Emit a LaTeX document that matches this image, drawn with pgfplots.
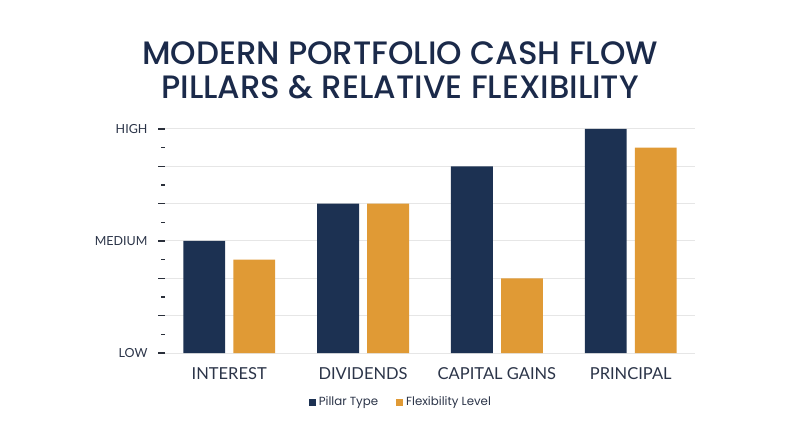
\documentclass[border=0pt]{standalone}
\usepackage{fontspec}
\usepackage{pgfplots}
\pgfplotsset{compat=1.18}
\setmainfont{Lato}
\newfontfamily\titlefont{Poppins}[UprightFont=* Medium]
\newfontfamily\legfont{Poppins}
\definecolor{navy}{HTML}{1C3152}
\definecolor{gold}{HTML}{E09A35}
\definecolor{titlenavy}{HTML}{1B2A4A}
\definecolor{labelnavy}{HTML}{2B3448}
\definecolor{gridgray}{HTML}{E6E6E6}
\definecolor{tickgray}{HTML}{2A2F3A}
\begin{document}
\begin{tikzpicture}
\path[use as bounding box] (0pt,0pt) rectangle (800pt,447pt);
\node[font=\titlefont\fontsize{32.4}{34}\selectfont, text=titlenavy, anchor=base] at (400pt,382pt) {MODERN PORTFOLIO CASH FLOW};
\node[font=\titlefont\fontsize{32.4}{34}\selectfont, text=titlenavy, anchor=base] at (400pt,348.7pt) {PILLARS \& RELATIVE FLEXIBILITY};
\begin{axis}[
  at={(165pt,94pt)}, anchor=south west,
  scale only axis, width=530pt, height=224pt,
  xmin=-0.48, xmax=3.48, ymin=0, ymax=12,
  axis lines*=left,
  x axis line style={draw=gridgray, line width=1pt},
  y axis line style={draw=none},
  xtick={0,1,2,3},
  xticklabels={INTEREST,DIVIDENDS,CAPITAL GAINS,PRINCIPAL},
  xtick style={draw=none},
  xticklabel style={font=\fontsize{16.5}{18}\selectfont, text=labelnavy, yshift=-4pt},
  ytick={0,2,4,6,8,10,12},
  yticklabels={LOW,,,MEDIUM,,,HIGH},
  minor ytick={1,3,5,7,9,11},
  tick align=outside,
  major tick length=7pt,
  minor tick length=4pt,
  ytick style={draw=tickgray, line width=1.4pt},
  minor tick style={draw=tickgray, line width=1.4pt},
  yticklabel style={font=\fontsize{12.5}{14}\selectfont, text=labelnavy, xshift=-7pt},
  ymajorgrids=true,
  major grid style={draw=gridgray, line width=1pt},
  clip=false,
  legend style={at={(0.445,-0.219)}, anchor=center, draw=none, fill=none,
    legend columns=2, font=\legfont\fontsize{11.8}{14}\selectfont, text=labelnavy,
    /tikz/every odd column/.append style={column sep=1pt},
    /tikz/every even column/.append style={column sep=16pt}},
  legend image code/.code={\fill[#1] (0pt,-3.5pt) rectangle (7pt,3.5pt);},
]
\addplot[ybar, bar width=0.313, bar shift=-0.187, fill=navy, draw=none] coordinates {(0,6) (1,8) (2,10) (3,12)};
\addplot[ybar, bar width=0.313, bar shift=0.187, fill=gold, draw=none] coordinates {(0,5) (1,8) (2,4) (3,11)};
\legend{Pillar Type, Flexibility Level}
\end{axis}
\end{tikzpicture}
\end{document}
